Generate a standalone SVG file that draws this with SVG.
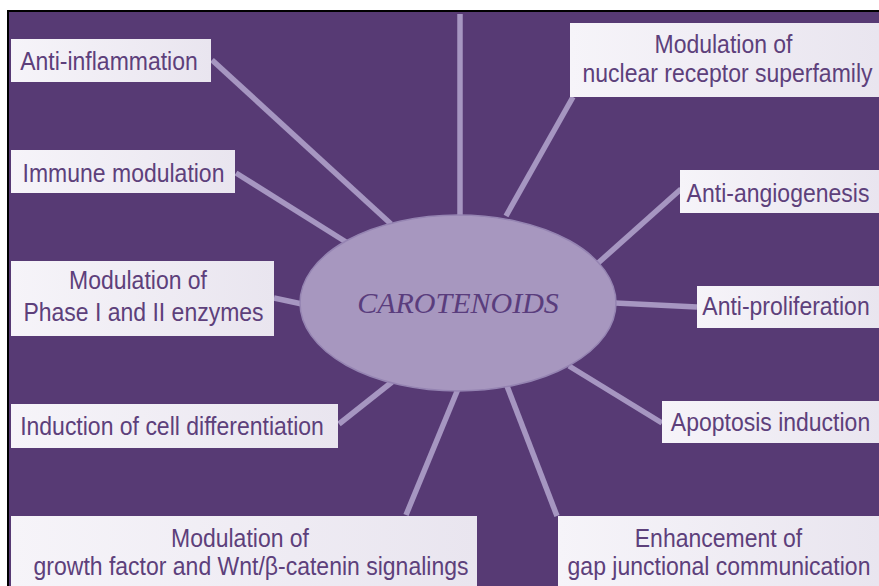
<svg xmlns="http://www.w3.org/2000/svg" width="879" height="586" viewBox="0 0 879 586">
<defs>
<linearGradient id="boxg" x1="0" y1="0" x2="1" y2="0">
<stop offset="0" stop-color="#f6f4f9"/>
<stop offset="1" stop-color="#e9e5ef"/>
</linearGradient>
</defs>
<style>
.box{fill:url(#boxg);}
.t{font-family:"Liberation Sans",Arial,sans-serif;font-size:23px;fill:#5d407b;text-anchor:middle;}
.c{stroke:#a696c1;stroke-width:5.5;stroke-linecap:butt;fill:none;}
</style>
<rect x="0" y="0" width="879" height="586" fill="#ffffff"/>
<rect x="7" y="10" width="872" height="576" fill="#000000"/>
<rect x="9" y="12" width="870" height="574" fill="#573a74"/>
<g id="connectors">
<line class="c" x1="460" y1="14" x2="460" y2="216"/>
<line class="c" x1="212" y1="60" x2="391" y2="224"/>
<line class="c" x1="236" y1="173" x2="346" y2="242"/>
<line class="c" x1="274" y1="298" x2="302" y2="304"/>
<line class="c" x1="339" y1="424" x2="392" y2="382"/>
<line class="c" x1="406" y1="515" x2="458" y2="389"/>
<line class="c" x1="557" y1="516" x2="507" y2="386"/>
<line class="c" x1="662" y1="423" x2="569" y2="366"/>
<line class="c" x1="697" y1="307" x2="615" y2="303"/>
<line class="c" x1="681" y1="189" x2="597" y2="264"/>
<line class="c" x1="573" y1="97" x2="506" y2="216"/>
</g>
<g id="carotenoids">
<ellipse cx="458" cy="303" rx="158" ry="88" fill="#a797bf" stroke="#9584b2" stroke-width="1.5"/>
<text x="458" y="313" font-family="'Liberation Serif','Times New Roman',serif" font-style="italic" font-size="30" fill="#5a3d7d" text-anchor="middle">CAROTENOIDS</text>
</g>
<g id="anti-inflammation">
<rect class="box" x="11" y="39" width="200" height="43"/>
<text class="t" transform="translate(109,70) scale(1,1.12)">Anti-inflammation</text>
</g>
<g id="immune-modulation">
<rect class="box" x="11" y="150" width="224" height="43"/>
<text class="t" transform="translate(123.5,182) scale(1,1.12)">Immune modulation</text>
</g>
<g id="phase-enzymes">
<rect class="box" x="11" y="261" width="263" height="75"/>
<text class="t" transform="translate(138,289) scale(1,1.12)">Modulation of</text>
<text class="t" transform="translate(143.5,321) scale(1,1.12)">Phase I and II enzymes</text>
</g>
<g id="cell-differentiation">
<rect class="box" x="11" y="404" width="327" height="44"/>
<text class="t" transform="translate(172,435) scale(1,1.12)">Induction of cell differentiation</text>
</g>
<g id="growth-factor">
<rect class="box" x="11" y="516" width="466" height="70"/>
<text class="t" transform="translate(240,547) scale(1,1.12)">Modulation of</text>
<text class="t" transform="translate(251,575) scale(1,1.12)">growth factor and Wnt/β-catenin signalings</text>
</g>
<g id="gap-junctional">
<rect class="box" x="558" y="516" width="321" height="70"/>
<text class="t" transform="translate(718.5,547) scale(1,1.12)">Enhancement of</text>
<text class="t" transform="translate(719,575) scale(1,1.12)">gap junctional communication</text>
</g>
<g id="apoptosis">
<rect class="box" x="662" y="401" width="217" height="42"/>
<text class="t" transform="translate(770.5,431) scale(1,1.12)">Apoptosis induction</text>
</g>
<g id="anti-proliferation">
<rect class="box" x="697" y="286" width="182" height="42"/>
<text class="t" transform="translate(786,315) scale(1,1.12)">Anti-proliferation</text>
</g>
<g id="anti-angiogenesis">
<rect class="box" x="680" y="170" width="199" height="43"/>
<text class="t" transform="translate(778,202) scale(1,1.12)">Anti-angiogenesis</text>
</g>
<g id="nuclear-receptor">
<rect class="box" x="570" y="23" width="309" height="74"/>
<text class="t" transform="translate(723.5,53) scale(1,1.12)">Modulation of</text>
<text class="t" transform="translate(727.5,82) scale(1,1.12)">nuclear receptor superfamily</text>
</g>
</svg>
